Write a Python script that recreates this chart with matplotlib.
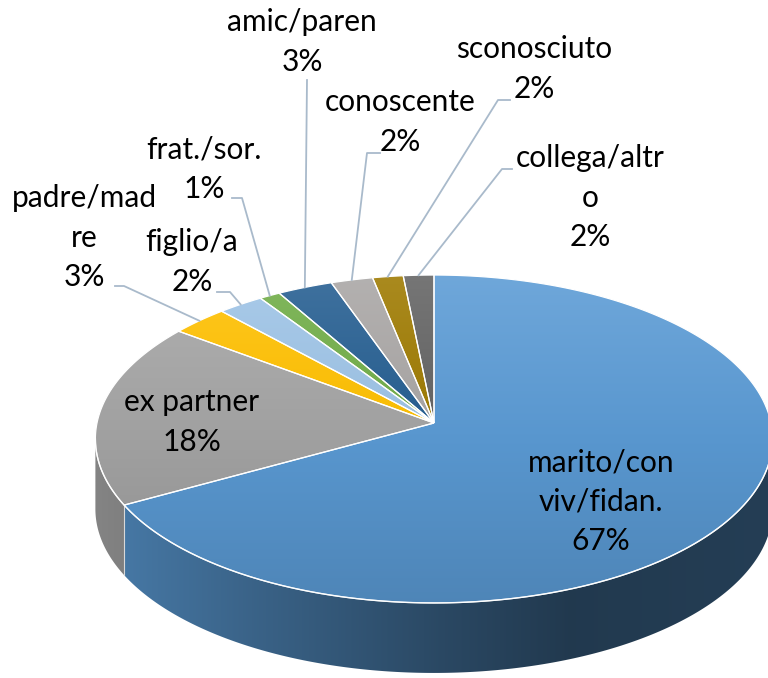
import numpy as np
import matplotlib.pyplot as plt
from matplotlib.patches import Polygon
from matplotlib.colors import to_rgb

# data (shares in %, labels show them rounded)
labels = ["marito/con\nviv/fidan.", "ex partner", "padre/mad\nre", "figlio/a",
          "frat./sor.", "amic/paren", "conoscente", "sconosciuto", "collega/altr\no"]
values = [67.0, 18.2, 3.0, 2.4, 1.1, 2.9, 2.2, 1.6, 1.6]
colors = ["#5B9BD5", "#A5A5A5", "#FFC000", "#9DC3E6", "#70AD47",
          "#255E91", "#A9A6A5", "#9E7A00", "#636363"]

# label centres (pixels) and leader line elbows, None = label sits on the slice
label_pos = [(601, 502), (192, 422), (84, 238), (192, 262), (204, 169),
             (302, 42), (400, 122), (534, 69), (590, 198)]
leaders = [None, None, [(115, 286), (124, 286)], [(217, 292), (230, 292)],
           [(232, 198), (242, 198)], [(307, 80)], [(380, 153), (367, 153)],
           [(510, 100), (498, 100)], [(512, 169), (502, 169)]]
LINE_H = 39.5

# 3d look: centre, radii, perspective factor, thickness
CX, CY = 434, 423
SX, SY, K = 337, 162.4, 0.0975
DEPTH = 70


def proj(theta):
    # theta in degrees, clockwise from 12 o'clock
    th = np.radians(theta)
    u, v = np.sin(th), np.cos(th)
    w = 1 + K * v
    return CX + SX * u / w, CY - SY * v / w


def arc(t0, t1, n=None):
    if n is None:
        n = max(int(abs(t1 - t0) * 2), 4)
    t = np.linspace(t0, t1, n)
    x, y = proj(t)
    return np.column_stack([x, y])


def grad_fill(ax, xy, stops, vertical, lo, hi, z):
    poly = Polygon(xy, closed=True, fc="none", ec="none", zorder=z)
    ax.add_patch(poly)
    pos = np.linspace(lo, hi, 300)
    sp = [s[0] for s in stops]
    rgb = np.array([[np.interp(p, sp, [s[1][i] for s in stops]) for i in range(3)] for p in pos])
    if vertical:
        img = rgb[:, None, :]
        ext = (xy[:, 0].min(), xy[:, 0].max(), hi, lo)
    else:
        img = rgb[None, :, :]
        ext = (lo, hi, xy[:, 1].max(), xy[:, 1].min())
    im = ax.imshow(img, extent=ext, origin="upper", aspect="auto",
                   interpolation="bilinear", zorder=z)
    im.set_clip_path(poly)


def shade(c, f):
    c = np.array(to_rgb(c))
    if f >= 1:
        return tuple(c + (1 - c) * (f - 1))
    return tuple(c * f)


fig = plt.figure(figsize=(7.68, 6.78), dpi=100)
ax = fig.add_axes([0, 0, 1, 1])
ax.axis("off")

total = sum(values)
bounds = np.concatenate([[0], np.cumsum(values) / total * 360])

# visible part of the outer wall
th_r = np.degrees(np.arccos(-K))
th_l = 360 - th_r

for i, c in enumerate(colors):
    a0, a1 = max(bounds[i], th_r), min(bounds[i + 1], th_l)
    if a1 <= a0:
        continue
    top = arc(a0, a1)
    bot = top[::-1] + [0, DEPTH]
    xy = np.vstack([top, bot])
    stops = [(95, shade(c, 0.80)), (250, shade(c, 0.64)), (450, shade(c, 0.46)),
             (570, shade(c, 0.37)), (775, shade(c, 0.40))]
    grad_fill(ax, xy, stops, False, 90, 780, 1)

# edge between wall pieces
for b in bounds[1:-1]:
    if th_r < b < th_l:
        x, y = proj(b)
        ax.plot([x, x], [y, y + DEPTH], color="#D8D8D8", lw=0.8, zorder=2)

# top faces
for i, c in enumerate(colors):
    xy = np.vstack([[CX, CY], arc(bounds[i], bounds[i + 1])])
    stops = [(275, shade(c, 1.12)), (440, shade(c, 0.97)), (605, shade(c, 0.86))]
    grad_fill(ax, xy, stops, True, 270, 608, 3)
    ax.add_patch(Polygon(xy, closed=True, fc="none", ec="white", lw=0.9, zorder=4))

# light rim on the front edge of the top
rim = arc(th_r, th_l)
ax.plot(rim[:, 0], rim[:, 1], color="white", lw=1.0, alpha=0.85, zorder=4)

# labels (one text per line) and leader lines
for i, lab in enumerate(labels):
    lines = f"{lab}\n{values[i]:.0f}%".split("\n")
    x, y = label_pos[i]
    n = len(lines)
    for j, line in enumerate(lines):
        ax.text(x, y + (j - (n - 1) / 2) * LINE_H, line, ha="center", va="center",
                fontsize=21.5, family="Lato", color="black", zorder=6)
    if leaders[i] is not None:
        mid = (bounds[i] + bounds[i + 1]) / 2
        ex, ey = proj(mid)
        pts = np.array(leaders[i] + [(ex, ey)])
        ax.plot(pts[:, 0], pts[:, 1], color="#A9BACB", lw=1.3, zorder=5)

ax.set_xlim(0, 768)
ax.set_ylim(678, 0)
fig.savefig("out.png", dpi=100)
